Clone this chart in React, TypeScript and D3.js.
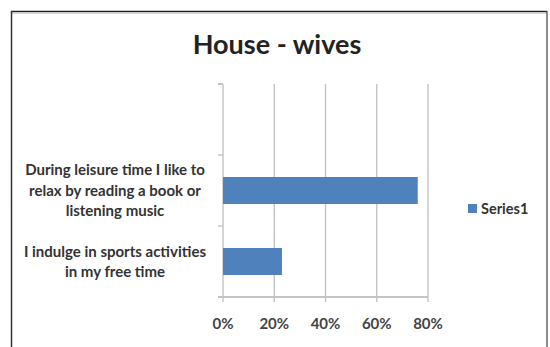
import React from "react";
import * as d3 from "d3";

const categories: string[] = [
  "I indulge in sports activities in my free time",
  "During leisure time I like to relax by reading a book or listening music",
  "",
];
const categoryLines: string[][] = [
  ["I indulge in sports activities", "in my free time"],
  ["During leisure time I like to", "relax by reading a book or", "listening music"],
  [],
];
const series1: (number | null)[] = [0.23, 0.76, null];
const xTicks: number[] = [0, 0.2, 0.4, 0.6, 0.8];
const seriesName = "Series1";
const title = "House - wives";

const W = 550;
const H = 347;
const left = 223;
const right = 428;
const top = 84;
const bottom = 297;
const barColor = "#4F81BD";
const gridColor = "#BFBFBF";
const font = "Lato, 'Open Sans', sans-serif";

export default function App() {
  const x = d3.scaleLinear().domain([0, 0.8]).range([left, right]);
  const y = d3
    .scaleBand<string>()
    .domain(categories.map((c, i) => String(i)))
    .range([bottom, top])
    .paddingInner(0.62)
    .paddingOuter(0.31);
  const yb = d3.scaleBand<string>().domain(categories.map((c, i) => String(i))).range([bottom, top]);
  const bandEdges = categories.map((c, i) => yb(String(i))!).concat([top]);
  const fmt = d3.format(".0%");

  return (
    <svg
      width={W}
      height={H}
      style={{ position: "absolute", left: 0, top: 0, background: "#fff" }}
      fontFamily={font}
    >
      {/* frame */}
      <line x1={11} y1={11.5} x2={547} y2={11.5} stroke="#222" strokeWidth={1.5} />
      <line x1={12} y1={13} x2={547} y2={13} stroke="#c8c8c8" strokeWidth={1.5} />
      <line x1={11.5} y1={11} x2={11.5} y2={H} stroke="#333" strokeWidth={1.5} />
      <line x1={547} y1={11} x2={547} y2={H} stroke="#444" strokeWidth={1.2} />

      <text
        x={277}
        y={54}
        textAnchor="middle"
        fontSize={27}
        fontWeight={700}
        fill="#222"
      >
        {title}
      </text>

      {/* gridlines */}
      {xTicks.map((t) => (
        <line
          key={"g" + t}
          x1={x(t)}
          x2={x(t)}
          y1={top}
          y2={bottom + 5}
          stroke={gridColor}
          strokeWidth={1.3}
        />
      ))}
      {/* y axis ticks */}
      {bandEdges.map((e, i) => (
        <line
          key={"yt" + i}
          x1={left - 5}
          x2={left}
          y1={e}
          y2={e}
          stroke={gridColor}
          strokeWidth={1.3}
        />
      ))}
      {/* bottom axis */}
      <line x1={left - 5} x2={right} y1={bottom} y2={bottom} stroke="#c4c4c4" strokeWidth={2} />

      {/* bars */}
      {series1.map((v, i) =>
        v == null ? null : (
          <rect
            key={"b" + i}
            x={x(0)}
            y={y(String(i))!}
            width={x(v) - x(0)}
            height={y.bandwidth()}
            fill={barColor}
          />
        )
      )}

      {/* category labels */}
      {categoryLines.map((lines, i) => {
        const cy = yb(String(i))! + yb.bandwidth() / 2;
        const lh = 20.5;
        const start = cy - ((lines.length - 1) * lh) / 2;
        return lines.map((l, j) => (
          <text
            key={"c" + i + "-" + j}
            x={115}
            y={start + j * lh}
            dy="0.35em"
            textAnchor="middle"
            fontSize={15}
            fontWeight={700}
            fill="#333"
          >
            {l}
          </text>
        ));
      })}

      {/* x tick labels */}
      {xTicks.map((t) => (
        <text
          key={"xl" + t}
          x={x(t)}
          y={324}
          dy="0.35em"
          textAnchor="middle"
          fontSize={15}
          fontWeight={700}
          fill="#444"
        >
          {fmt(t)}
        </text>
      ))}

      {/* legend */}
      <rect x={468} y={204} width={9} height={9} fill={barColor} />
      <text x={481} y={208.5} dy="0.35em" fontSize={14.5} fontWeight={700} fill="#333">
        {seriesName}
      </text>
    </svg>
  );
}
